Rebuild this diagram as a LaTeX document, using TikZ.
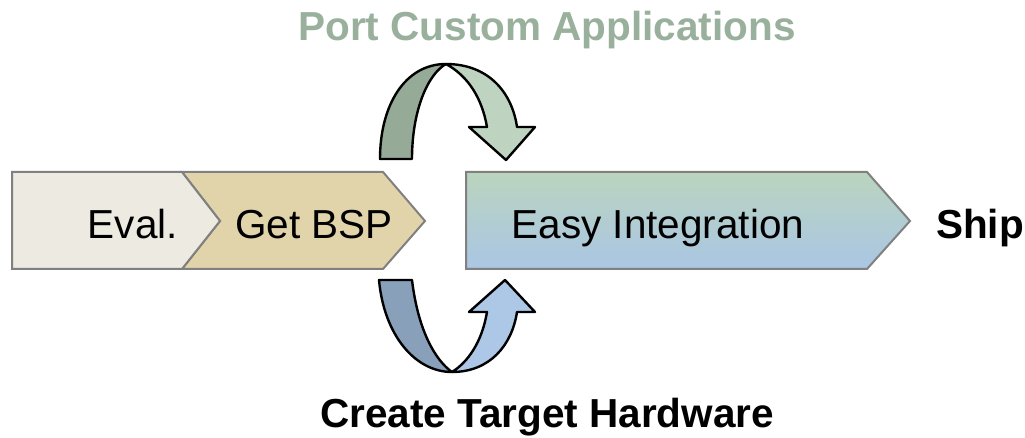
\documentclass[tikz,border=0pt]{standalone}
\usepackage{fontspec}
\setmainfont{Liberation Sans}
\definecolor{evalfill}{RGB}{237,234,225}
\definecolor{bspfill}{RGB}{226,212,170}
\definecolor{chevline}{RGB}{128,128,128}
\definecolor{integtop}{RGB}{186,212,190}
\definecolor{integbot}{RGB}{170,198,228}
\definecolor{portdark}{RGB}{150,170,152}
\definecolor{portlight}{RGB}{190,212,193}
\definecolor{hwdark}{RGB}{136,160,186}
\definecolor{hwlight}{RGB}{172,200,230}
\definecolor{porttext}{RGB}{152,176,156}
\tikzset{
  chev/.style={draw=chevline, line width=2pt, line join=miter},
  loopband/.style={draw=black, line width=2.4pt, line join=round},
  steptext/.style={anchor=base, inner sep=0pt, font=\fontsize{40.5}{48}\selectfont},
  headtext/.style={anchor=base, inner sep=0pt, font=\fontsize{40.5}{48}\selectfont\bfseries},
}
\begin{document}
\begin{tikzpicture}[x=1pt, y=-1pt]
\useasboundingbox (0,0) rectangle (1025,438);

% process chevrons
\path[chev, fill=bspfill] (182,172) -- (383,172) -- (425,221) -- (383,269) -- (182,269) -- (220,221) -- cycle;
\path[chev, fill=evalfill] (12,172) -- (182,172) -- (220,221) -- (182,269) -- (12,269) -- cycle;
\path[chev, top color=integtop, bottom color=integbot] (466,172) -- (867,172) -- (910,221) -- (867,269) -- (466,269) -- cycle;

% curved arrow over the gap
\path[loopband, fill=portdark] (380,159) .. controls (380,105) and (405,64) .. (446,64)
  .. controls (428,74) and (412,110) .. (412,159) -- cycle;
\path[loopband, fill=portlight] (446,64) .. controls (488,64) and (512,92) .. (517,127)
  -- (535,127) -- (506,160) -- (469,127) -- (487,127)
  .. controls (482,98) and (468,76) .. (446,64) -- cycle;

% curved arrow under the gap
\path[loopband, fill=hwdark] (379,280) .. controls (384,335) and (415,372) .. (452,372)
  .. controls (435,360) and (418,330) .. (412,280) -- cycle;
\path[loopband, fill=hwlight] (452,372) .. controls (490,372) and (512,345) .. (517,312)
  -- (535,312) -- (505,280) -- (469,312) -- (487,312)
  .. controls (482,342) and (468,362) .. (452,372) -- cycle;

% labels
\node[steptext] (eval) at (133,239) {Eval.};
\node[steptext] (bsp) at (314,239) {Get BSP};
\node[steptext] (integ) at (658,239) {Easy Integration};
\node[headtext] (ship) at (980,239) {Ship};
\node[headtext, text=porttext] (port) at (547,41) {Port Custom Applications};
\node[headtext] (hw) at (547,427) {Create Target Hardware};
\end{tikzpicture}
\end{document}
